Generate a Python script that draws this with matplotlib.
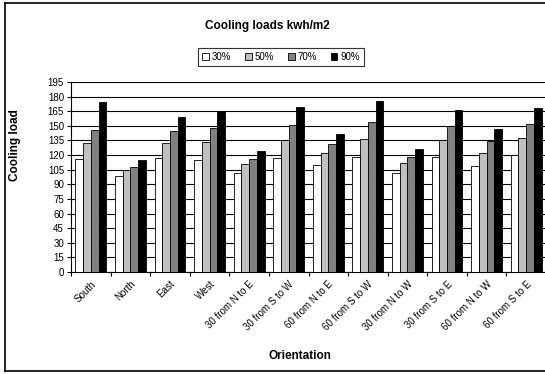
import numpy as np
import matplotlib
matplotlib.use("Agg")
import matplotlib.pyplot as plt
from matplotlib.lines import Line2D

plt.rcParams["font.family"] = ["Liberation Sans", "DejaVu Sans"]

orientations = ["South", "North", "East", "West", "30 from N to E", "30 from S to W",
                "60 from N to E", "60 from S to W", "30 from N to W", "30 from S to E",
                "60 from N to W", "60 from S to E"]
series_names = ["30%", "50%", "70%", "90%"]
load_30 = [116, 99, 117, 115, 102, 117, 109.5, 118, 102, 118, 109, 120]
load_50 = [132, 105, 132, 133, 110.5, 135, 122, 137, 111.5, 135, 122.5, 137.5]
load_70 = [146, 108, 145, 148, 116, 151, 131, 153.5, 118, 149.5, 134, 152]
load_90 = [174, 115, 159.5, 165, 124, 169.5, 141.5, 175, 126.5, 166.5, 147, 168.5]
yticks = list(range(0, 196, 15))

colors = ["white", "#c0c0c0", "#808080", "black"]
W, H = 545, 374
fig = plt.figure(figsize=(W / 100, H / 100), dpi=100)

# axes placed in pixel terms (the original chart is cropped on the right)
left, right, top, bottom = 71, 546, 82, 272
ax = fig.add_axes([left / W, 1 - bottom / H, (right - left) / W, (bottom - top) / H])

x = np.arange(len(orientations))
bw = 0.195
for i, vals in enumerate([load_30, load_50, load_70, load_90]):
    ax.bar(x + (i - 1.5) * bw, vals, bw, color=colors[i], edgecolor="black",
           linewidth=0.6, zorder=3, label=series_names[i])

ax.set_xlim(-0.5, len(orientations) - 0.5)
ax.set_ylim(0, 195)
ax.set_yticks(yticks)
ax.yaxis.grid(True, color="black", linewidth=0.8, zorder=0)
ax.tick_params(axis="y", labelsize=7, length=3, width=0.8, pad=2)

ax.set_xticks(x)
ax.set_xticklabels(orientations, rotation=45, ha="right", rotation_mode="anchor", fontsize=7)
ax.tick_params(axis="x", which="major", length=0, pad=5)
ax.set_xticks(np.arange(len(orientations) + 1) - 0.5, minor=True)
ax.tick_params(axis="x", which="minor", length=3, width=0.8)

for s in ["top", "right"]:
    ax.spines[s].set_visible(False)
ax.spines["left"].set_linewidth(0.8)
ax.spines["bottom"].set_linewidth(0.8)

fig.text(267 / W, 1 - 26 / H, "Cooling loads kwh/m2", ha="center", va="center",
         fontsize=8.5, fontweight="bold")
fig.text(15 / W, 1 - 145 / H, "Cooling load", ha="center", va="center",
         rotation=90, fontsize=8.5, fontweight="bold")
fig.text(300 / W, 1 - 356 / H, "Orientation", ha="center", va="center",
         fontsize=8.5, fontweight="bold")

leg = fig.legend(loc="center", bbox_to_anchor=(281 / W, 1 - 57 / H), ncol=4,
                 fontsize=7, frameon=True, fancybox=False, edgecolor="black",
                 handlelength=0.7, handleheight=0.7, handletextpad=0.3,
                 columnspacing=1.4, borderpad=0.4)
leg.get_frame().set_linewidth(0.8)

# outer chart border (right side is cut off in the original)
bx0, by0, by1 = 5 / W, 1 - 3 / H, 1 - 371 / H
for xs, ys in [([bx0, bx0], [by0, by1]), ([bx0, 1.01], [by0, by0]), ([bx0, 1.01], [by1, by1])]:
    fig.add_artist(Line2D(xs, ys, color="black", linewidth=1.2, transform=fig.transFigure))

fig.savefig("out.png", dpi=100)
